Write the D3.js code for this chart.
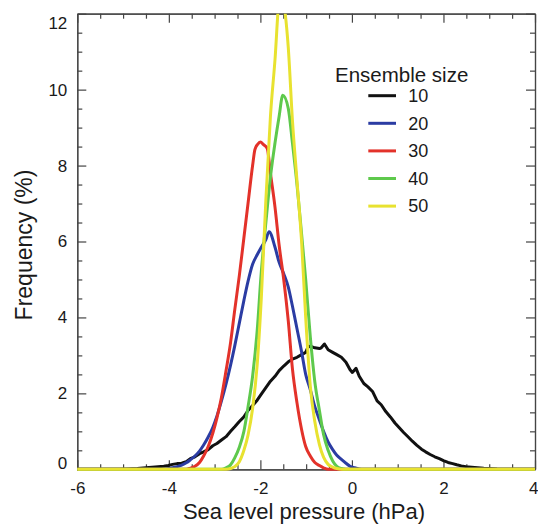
<!DOCTYPE html>
<html><head><meta charset="utf-8">
<script src="https://cdn.jsdelivr.net/npm/d3@7"></script>
<style>
html,body{margin:0;padding:0;background:#fff;}
svg{display:block;font-family:"Liberation Sans",Arial,Helvetica,sans-serif;}
</style></head>
<body><svg id="chart" width="538" height="525"></svg>
<script>
// ---- data (x = sea level pressure, hPa ; f = frequency, %) ----
const ensembleSizes = ["10", "20", "30", "40", "50"];
const seriesColors = ["#111111", "#2b3ca3", "#e3322a", "#5ec94c", "#e8e230"];
const xMajorTicks = [-6, -4, -2, 0, 2, 4];
const yMajorTicks = [0, 2, 4, 6, 8, 10, 12];

const size10 = [[-6,0],[-5.08,0],[-4.89,0.01],[-4.69,0.02],[-4.5,0.04],[-4.3,0.06],[-4.11,0.08],[-4.01,0.1],[-3.92,0.13],[-3.82,0.15],[-3.72,0.16],[-3.62,0.2],[-3.53,0.28],[-3.43,0.33],[-3.33,0.41],[-3.24,0.46],[-3.14,0.52],[-3.04,0.62],[-2.95,0.68],[-2.85,0.77],[-2.75,0.86],[-2.65,1.0],[-2.56,1.12],[-2.46,1.26],[-2.36,1.38],[-2.27,1.55],[-2.17,1.68],[-2.07,1.82],[-1.98,1.98],[-1.88,2.15],[-1.78,2.32],[-1.68,2.45],[-1.59,2.6],[-1.49,2.72],[-1.39,2.83],[-1.3,2.9],[-1.2,2.95],[-1.1,3.02],[-1.01,3.08],[-0.96,3.22],[-0.91,3.24],[-0.81,3.2],[-0.71,3.18],[-0.67,3.2],[-0.6,3.3],[-0.52,3.15],[-0.42,3.08],[-0.33,3.02],[-0.23,2.95],[-0.13,2.82],[-0.04,2.62],[0.01,2.55],[0.09,2.66],[0.16,2.45],[0.26,2.26],[0.35,2.17],[0.45,2.05],[0.55,1.8],[0.64,1.7],[0.74,1.52],[0.84,1.38],[0.94,1.22],[1.03,1.1],[1.13,0.97],[1.23,0.85],[1.32,0.74],[1.42,0.63],[1.52,0.53],[1.61,0.46],[1.71,0.39],[1.81,0.33],[1.91,0.28],[2.0,0.23],[2.1,0.18],[2.2,0.15],[2.29,0.12],[2.39,0.09],[2.49,0.07],[2.68,0.05],[2.88,0.03],[3.17,0.01],[3.46,0],[4,0]];
const size20 = [[-6,0],[-4.11,0],[-4.01,0.02],[-3.92,0.04],[-3.82,0.07],[-3.72,0.11],[-3.62,0.17],[-3.53,0.25],[-3.43,0.35],[-3.33,0.48],[-3.24,0.64],[-3.14,0.85],[-3.04,1.1],[-2.95,1.4],[-2.85,1.8],[-2.75,2.25],[-2.65,2.75],[-2.56,3.25],[-2.46,3.85],[-2.36,4.45],[-2.27,4.95],[-2.17,5.4],[-2.07,5.65],[-1.98,5.85],[-1.88,6.05],[-1.81,6.26],[-1.68,5.85],[-1.59,5.45],[-1.49,5.15],[-1.39,4.8],[-1.3,4.3],[-1.2,3.7],[-1.1,3.1],[-1.01,2.5],[-0.91,2.1],[-0.81,1.65],[-0.71,1.3],[-0.62,1.0],[-0.52,0.72],[-0.42,0.52],[-0.33,0.37],[-0.23,0.26],[-0.13,0.16],[-0.04,0.08],[0.06,0.04],[0.16,0.01],[0.26,0],[4,0]];
const size30 = [[-6,0],[-3.62,0],[-3.53,0.03],[-3.43,0.08],[-3.33,0.18],[-3.24,0.35],[-3.14,0.6],[-3.04,0.95],[-2.95,1.35],[-2.85,1.9],[-2.75,2.6],[-2.65,3.35],[-2.56,4.2],[-2.46,5.1],[-2.36,6.1],[-2.27,7.0],[-2.17,8.0],[-2.12,8.42],[-2.06,8.56],[-2.0,8.62],[-1.93,8.55],[-1.85,8.45],[-1.78,7.8],[-1.68,6.9],[-1.59,5.9],[-1.49,5.0],[-1.39,3.9],[-1.3,2.65],[-1.2,1.75],[-1.1,1.05],[-1.01,0.6],[-0.91,0.35],[-0.81,0.18],[-0.71,0.1],[-0.62,0.04],[-0.52,0],[4,0]];
const size40 = [[-6,0],[-2.85,0],[-2.75,0.04],[-2.65,0.12],[-2.56,0.3],[-2.46,0.58],[-2.36,1.0],[-2.27,1.64],[-2.17,2.45],[-2.07,3.65],[-1.98,5.2],[-1.88,6.5],[-1.78,7.7],[-1.68,8.6],[-1.59,9.3],[-1.51,9.85],[-1.39,9.5],[-1.3,8.6],[-1.2,7.5],[-1.1,6.2],[-1.01,5.0],[-0.91,3.5],[-0.81,2.3],[-0.71,1.55],[-0.62,0.92],[-0.52,0.5],[-0.42,0.22],[-0.33,0.08],[-0.23,0.02],[-0.13,0],[4,0]];
const size50 = [[-6,0],[-2.75,0],[-2.65,0.02],[-2.56,0.07],[-2.46,0.2],[-2.36,0.5],[-2.27,0.9],[-2.17,1.6],[-2.07,2.75],[-1.98,4.5],[-1.88,7.1],[-1.78,9.3],[-1.68,10.8],[-1.59,12.4],[-1.54,12.6],[-1.49,12.3],[-1.39,11.1],[-1.3,9.2],[-1.2,7.6],[-1.1,6.0],[-1.01,4.0],[-0.91,2.2],[-0.81,1.25],[-0.71,0.65],[-0.62,0.32],[-0.52,0.13],[-0.42,0.06],[-0.33,0.02],[-0.23,0],[4,0]];
const allSeries = [size10, size20, size30, size40, size50];

// ---- layout ----
const svg = d3.select("#chart");
const L = 77.3, R = 535, T = 13.7, B = 469.3;
const x = d3.scaleLinear().domain([-6, 4]).range([L, R]);
const y = d3.scaleLinear().domain([0, 12]).range([B, T]);
const axisColor = "#444";
const fmt = d => String(d);   // plain hyphen-minus as in the reference

const xMinor = d3.range(-6, 4.001, 0.5).filter(v => Math.abs(v % 2) > 1e-6);
const yMinor = d3.range(0, 12.001, 0.5).filter(v => Math.abs(v % 2) > 1e-6);

function styleAxis(g) {
  g.selectAll("path.domain").attr("stroke", axisColor).attr("stroke-width", 1.2);
  g.selectAll(".tick line").attr("stroke", axisColor).attr("stroke-width", 1.2);
  g.selectAll(".tick text").attr("fill", "#1a1a1a").attr("font-size", 17)
    .attr("font-family", "\"Liberation Sans\",Arial,Helvetica,sans-serif");
}

// bottom
const xAx = svg.append("g").attr("transform", `translate(0,${B})`)
  .call(d3.axisBottom(x).tickValues(xMajorTicks).tickSizeInner(-9).tickSizeOuter(0).tickPadding(13).tickFormat(fmt))
  .call(styleAxis);
xAx.selectAll(".tick text").filter(d => d === 4).attr("text-anchor", "end").attr("dx", 3);
svg.append("g").attr("transform", `translate(0,${B})`)
  .call(d3.axisBottom(x).tickValues(xMinor).tickSizeInner(-5).tickSizeOuter(0).tickFormat(""))
  .call(styleAxis);
// top
svg.append("g").attr("transform", `translate(0,${T})`)
  .call(d3.axisTop(x).tickValues(xMajorTicks).tickSizeInner(-9).tickSizeOuter(0).tickFormat(""))
  .call(styleAxis);
svg.append("g").attr("transform", `translate(0,${T})`)
  .call(d3.axisTop(x).tickValues(xMinor).tickSizeInner(-5).tickSizeOuter(0).tickFormat(""))
  .call(styleAxis);
// left
const yAx = svg.append("g").attr("transform", `translate(${L},0)`)
  .call(d3.axisLeft(y).tickValues(yMajorTicks).tickSizeInner(-9).tickSizeOuter(0).tickPadding(10).tickFormat(fmt))
  .call(styleAxis);
yAx.selectAll(".tick text")
  .attr("transform", d => d === 12 ? "translate(0,9)" : (d === 0 ? "translate(0,-6.5)" : null));
svg.append("g").attr("transform", `translate(${L},0)`)
  .call(d3.axisLeft(y).tickValues(yMinor).tickSizeInner(-5).tickSizeOuter(0).tickFormat(""))
  .call(styleAxis);
// right
svg.append("g").attr("transform", `translate(${R},0)`)
  .call(d3.axisRight(y).tickValues(yMajorTicks).tickSizeInner(-9).tickSizeOuter(0).tickFormat(""))
  .call(styleAxis);
svg.append("g").attr("transform", `translate(${R},0)`)
  .call(d3.axisRight(y).tickValues(yMinor).tickSizeInner(-5).tickSizeOuter(0).tickFormat(""))
  .call(styleAxis);

// ---- curves ----
svg.append("clipPath").attr("id", "plotclip").append("rect")
  .attr("x", L - 2).attr("y", T).attr("width", R - L + 4).attr("height", B - T + 4);
const gLines = svg.append("g").attr("clip-path", "url(#plotclip)");
allSeries.forEach((s, i) => {
  const line = d3.line().x(d => x(d[0])).y(d => y(d[1]))
    .curve(i === 0 ? d3.curveLinear : d3.curveMonotoneX);
  gLines.append("path").datum(s).attr("d", line)
    .attr("fill", "none").attr("stroke", seriesColors[i])
    .attr("stroke-width", 3).attr("stroke-linejoin", "round");
});

// ---- legend ----
const lg = svg.append("g");
lg.append("text").attr("x", 335).attr("y", 81.5).attr("font-size", 20.5).attr("fill", "#1a1a1a")
  .text("Ensemble size");
ensembleSizes.forEach((lab, i) => {
  const yy = 95.7 + i * 27.6;
  lg.append("line").attr("x1", 368.3).attr("x2", 396).attr("y1", yy).attr("y2", yy)
    .attr("stroke", seriesColors[i]).attr("stroke-width", 3);
  lg.append("text").attr("x", 408.3).attr("y", yy).attr("dy", "0.35em")
    .attr("font-size", 18).attr("fill", "#1a1a1a").text(lab);
});

// ---- axis titles ----
svg.append("text").attr("x", 304).attr("y", 519).attr("text-anchor", "middle")
  .attr("font-size", 22).attr("fill", "#1a1a1a").text("Sea level pressure (hPa)");
svg.append("text").attr("transform", "translate(31.5,245) rotate(-90)").attr("text-anchor", "middle")
  .attr("font-size", 23).attr("fill", "#1a1a1a").text("Frequency (%)");
</script></body></html>
